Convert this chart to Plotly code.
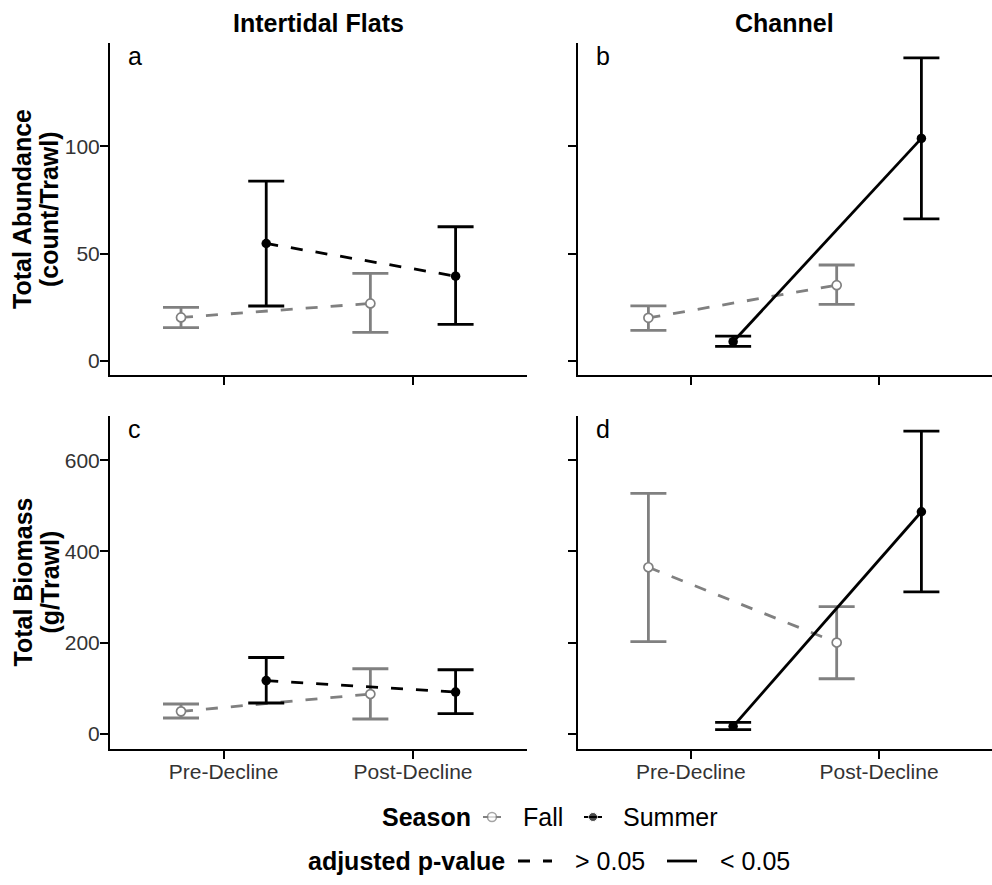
import plotly.graph_objects as go
from plotly.subplots import make_subplots

# ---------------- data ----------------
periods = ["Pre-Decline", "Post-Decline"]
habitats = ["Intertidal Flats", "Channel"]
panel_letters = ["a", "b", "c", "d"]
y_titles = [("Total Abundance", "(count/Trawl)"), ("Total Biomass", "(g/Trawl)")]

# Total abundance (count/Trawl)
abund_tidal_fall = [20.3, 26.8]
abund_tidal_fall_lo = [15.5, 13.3]
abund_tidal_fall_hi = [25.0, 40.8]
abund_tidal_summer = [54.7, 39.5]
abund_tidal_summer_lo = [25.6, 17.1]
abund_tidal_summer_hi = [83.7, 62.5]

abund_chan_fall = [20.1, 35.3]
abund_chan_fall_lo = [14.3, 26.4]
abund_chan_fall_hi = [25.7, 44.7]
abund_chan_summer = [9.0, 103.6]
abund_chan_summer_lo = [6.8, 66.2]
abund_chan_summer_hi = [11.6, 141.1]

# Total biomass (g/Trawl)
bio_tidal_fall = [49.5, 87.5]
bio_tidal_fall_lo = [35.0, 32.8]
bio_tidal_fall_hi = [65.6, 142.9]
bio_tidal_summer = [117.0, 91.9]
bio_tidal_summer_lo = [67.8, 44.4]
bio_tidal_summer_hi = [167.6, 140.7]

bio_chan_fall = [365.4, 200.4]
bio_chan_fall_lo = [202.6, 121.0]
bio_chan_fall_hi = [527.4, 279.2]
bio_chan_summer = [16.6, 487.1]
bio_chan_summer_lo = [9.4, 311.4]
bio_chan_summer_hi = [25.4, 663.7]

# adjusted p-value class of the Pre->Post change per panel (Fall, Summer)
pval_fall = ["> 0.05", "> 0.05", "> 0.05", "> 0.05"]
pval_summer = ["> 0.05", "< 0.05", "> 0.05", "< 0.05"]

abund_ticks = [0, 50, 100]
bio_ticks = [0, 200, 400, 600]

# ---------------- styling ----------------
W, H = 992, 885
FONT = "Liberation Sans, Arial, Helvetica, sans-serif"
GREY = "#808080"
BLACK = "#000000"
TICKCOL = "#333333"
DODGE = 0.225
DASH = "12px,13px"
BIG = 25
TICKSIZE = 21
LW = 2.8


def fx(px):
    return px / W


def fy(py):
    return 1 - py / H


fig = make_subplots(rows=2, cols=2)

panels = [
    (1, 1, (abund_tidal_fall, abund_tidal_fall_lo, abund_tidal_fall_hi),
     (abund_tidal_summer, abund_tidal_summer_lo, abund_tidal_summer_hi)),
    (1, 2, (abund_chan_fall, abund_chan_fall_lo, abund_chan_fall_hi),
     (abund_chan_summer, abund_chan_summer_lo, abund_chan_summer_hi)),
    (2, 1, (bio_tidal_fall, bio_tidal_fall_lo, bio_tidal_fall_hi),
     (bio_tidal_summer, bio_tidal_summer_lo, bio_tidal_summer_hi)),
    (2, 2, (bio_chan_fall, bio_chan_fall_lo, bio_chan_fall_hi),
     (bio_chan_summer, bio_chan_summer_lo, bio_chan_summer_hi)),
]


def dash_of(p):
    return DASH if p == "> 0.05" else "solid"


for i, (r, c, fall, summer) in enumerate(panels):
    base = [k + 1 for k in range(len(periods))]
    for (vals, lo, hi), off, col, mk, pv in [
        (fall, -DODGE, GREY, dict(symbol="circle", size=9, color="white",
                                   line=dict(color=GREY, width=1.7)), pval_fall[i]),
        (summer, DODGE, BLACK, dict(symbol="circle", size=9.5, color=BLACK,
                                     line=dict(color=BLACK, width=0)), pval_summer[i]),
    ]:
        xs = [b + off for b in base]
        fig.add_trace(go.Scatter(
            x=xs, y=vals, mode="lines+markers",
            line=dict(color=col, width=LW, dash=dash_of(pv)),
            marker=mk,
            error_y=dict(type="data", symmetric=False,
                         array=[h - v for h, v in zip(hi, vals)],
                         arrayminus=[v - l for v, l in zip(vals, lo)],
                         color=col, thickness=LW, width=18),
            showlegend=False, hoverinfo="skip", cliponaxis=False,
        ), row=r, col=c)

# ---------------- axes ----------------
xdom = [[fx(110), fx(526.6)], [fx(577.8), fx(992)]]
ydom = [[fy(375), fy(43)], [fy(749), fy(416)]]

for i in range(4):
    r, c = divmod(i, 2)
    sfx = "" if i == 0 else str(i + 1)
    fig.layout["xaxis" + sfx].update(
        domain=xdom[c], range=[0.4, 2.6], tickvals=[1, 2],
        ticktext=periods, showticklabels=(r == 1),
        showline=True, linecolor=BLACK, linewidth=2,
        ticks="outside", ticklen=8, tickwidth=2, tickcolor=BLACK,
        showgrid=False, zeroline=False, ticklabelstandoff=-5,
        tickfont=dict(size=TICKSIZE, color=TICKCOL, family=FONT),
    )
    ticks = abund_ticks if r == 0 else bio_ticks
    rng = [-6.5, 148] if r == 0 else [-33, 697]
    fig.layout["yaxis" + sfx].update(
        domain=ydom[r], range=rng, tickvals=ticks,
        showticklabels=(c == 0),
        showline=True, linecolor=BLACK, linewidth=2,
        ticks="outside", ticklen=8, tickwidth=2, tickcolor=BLACK,
        showgrid=False, zeroline=False, ticklabelstandoff=-4,
        tickfont=dict(size=TICKSIZE, color=TICKCOL, family=FONT),
    )

# overlay pixel axis for the legend keys
fig.update_layout(
    xaxis5=dict(domain=[0, 1], range=[0, W], visible=False, anchor="y5", fixedrange=True),
    yaxis5=dict(domain=[0, 1], range=[H, 0], visible=False, anchor="x5", fixedrange=True),
)

annotations = []
# strip titles
for c, name in enumerate(habitats):
    cx = (xdom[c][0] + xdom[c][1]) / 2
    annotations.append(dict(text="<b>%s</b>" % name, x=cx, y=fy(22.5), xref="paper", yref="paper",
                            showarrow=False, font=dict(size=BIG, color=BLACK, family=FONT),
                            xanchor="center", yanchor="middle"))
# y titles (two lines each)
for r, (l1, l2) in enumerate(y_titles):
    cy = (ydom[r][0] + ydom[r][1]) / 2
    for txt, xc in [(l1, 22), (l2, 49)]:
        annotations.append(dict(text="<b>%s</b>" % txt, x=fx(xc), y=cy,
                                xref="paper", yref="paper", showarrow=False, textangle=-90,
                                font=dict(size=BIG, color=BLACK, family=FONT),
                                xanchor="center", yanchor="middle"))
# panel letters
for i, letter in enumerate(panel_letters):
    r, c = divmod(i, 2)
    annotations.append(dict(text=letter, x=xdom[c][0] + fx(16), y=ydom[r][1] - 13 / H,
                            xref="paper", yref="paper", showarrow=False,
                            font=dict(size=BIG, color=BLACK, family=FONT),
                            xanchor="left", yanchor="middle"))

# legend (row 1: Season, row 2: adjusted p-value)
row1, row2 = 817, 861
leg_font = dict(size=BIG, color=BLACK, family=FONT)
for txt, x0, yy in [("<b>Season</b>", 380, row1), ("Fall", 521, row1), ("Summer", 621, row1),
                    ("<b>adjusted p-value</b>", 306, row2), ("&gt; 0.05", 573, row2),
                    ("&lt; 0.05", 718, row2)]:
    annotations.append(dict(text=txt, x=x0, y=yy, xref="x5", yref="y5", showarrow=False,
                            font=leg_font, xanchor="left", yanchor="middle"))

fig.add_trace(go.Scatter(x=[483, 492, 501], y=[row1] * 3, mode="lines+markers", xaxis="x5", yaxis="y5",
                         line=dict(color=GREY, width=2), showlegend=False, hoverinfo="skip",
                         marker=dict(size=[0, 9, 0], color="white", line=dict(color=GREY, width=1.6))))
fig.add_trace(go.Scatter(x=[584, 593, 602], y=[row1] * 3, mode="lines+markers", xaxis="x5", yaxis="y5",
                         line=dict(color=BLACK, width=2), showlegend=False, hoverinfo="skip",
                         marker=dict(size=[0, 9, 0], color=BLACK)))
fig.add_trace(go.Scatter(x=[518, 552], y=[row2] * 2, mode="lines", xaxis="x5", yaxis="y5",
                         line=dict(color=BLACK, width=LW, dash=DASH), showlegend=False, hoverinfo="skip"))
fig.add_trace(go.Scatter(x=[667, 697], y=[row2] * 2, mode="lines", xaxis="x5", yaxis="y5",
                         line=dict(color=BLACK, width=LW), showlegend=False, hoverinfo="skip"))

fig.update_layout(
    width=W, height=H, margin=dict(l=0, r=0, t=0, b=0),
    paper_bgcolor="white", plot_bgcolor="rgba(0,0,0,0)",
    font=dict(family=FONT, color=BLACK),
    annotations=annotations, showlegend=False,
)

fig.write_html("out.html")
